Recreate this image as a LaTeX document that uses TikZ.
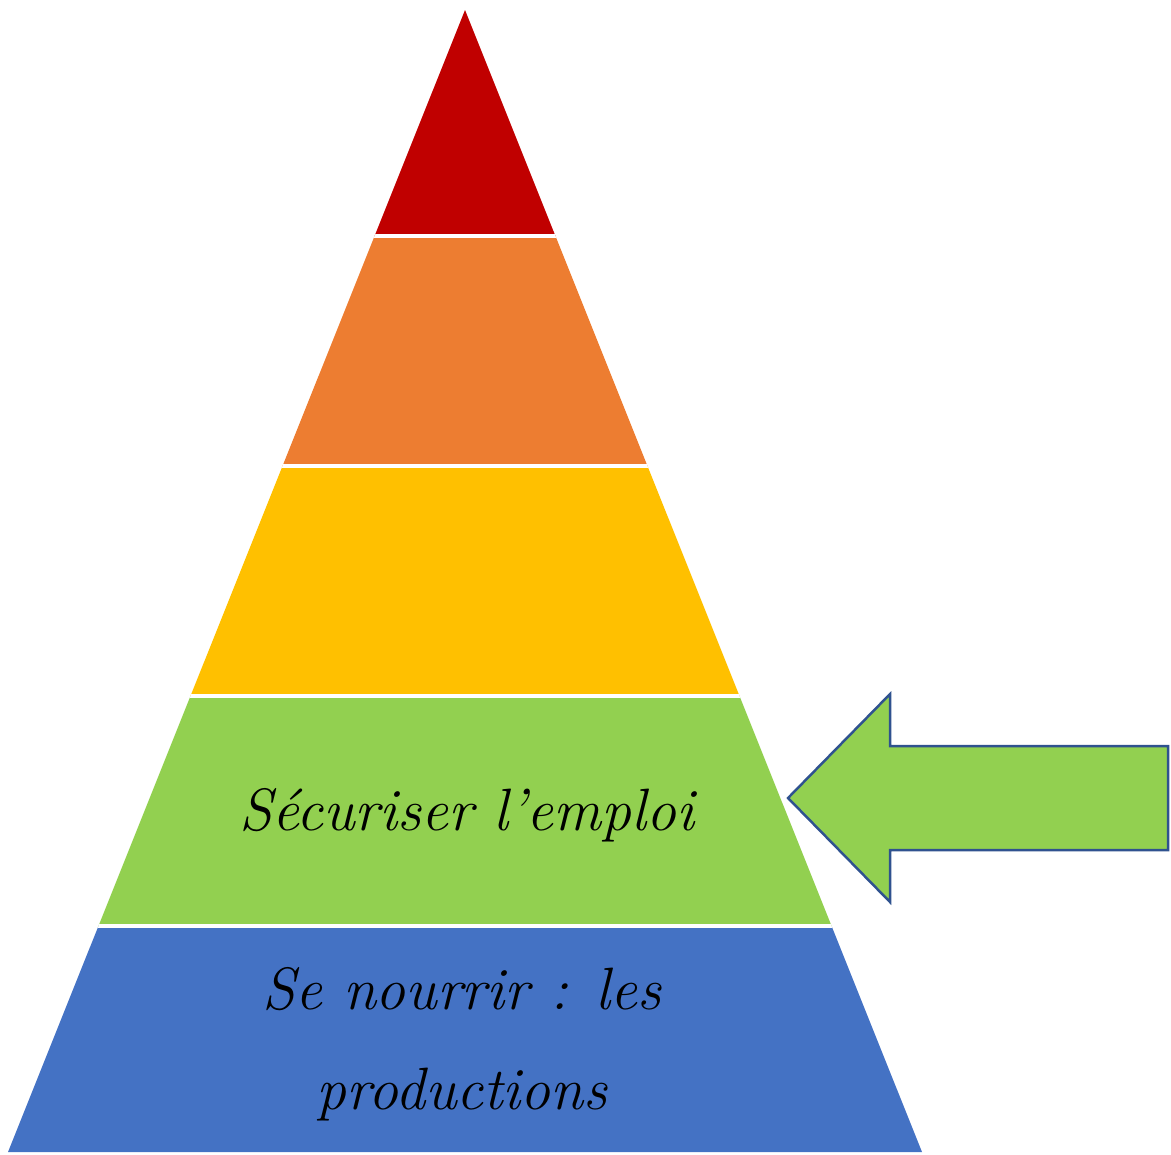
\documentclass[tikz,border=0pt]{standalone}
\usepackage{fontspec}
\usepackage{tikz}
\usetikzlibrary{positioning, calc}
\definecolor{levelred}{RGB}{192, 0, 0}
\definecolor{levelorange}{RGB}{237, 125, 49}
\definecolor{levelyellow}{RGB}{255, 192, 0}
\definecolor{levelgreen}{RGB}{146, 208, 80}
\definecolor{levelblue}{RGB}{68, 114, 196}
\definecolor{arrowline}{RGB}{47, 82, 143}
\tikzstyle{separator} = [draw=white, line width=0.9pt]
\tikzstyle{layertext} = [font=\fontsize{17}{28.45}\selectfont\itshape, text=black, align=center]
\tikzstyle{bigarrow} = [fill=levelgreen, draw=arrowline, line width=0.7pt, line join=miter]

\begin{document}
\begin{tikzpicture}[x=0.01cm, y=-0.01cm]
\useasboundingbox (0,0) rectangle (1171,1154);

% Pyramid outline
\coordinate (apex) at (465,10);
\coordinate (baseL) at (8,1152);
\coordinate (baseR) at (922,1152);

% Layers from top to bottom
\begin{scope}
\clip (apex) -- (baseL) -- (baseR) -- cycle;
\foreach \col/\top/\bot in {levelred/0/236, levelorange/236/466, levelyellow/466/696, levelgreen/696/926, levelblue/926/1154}
  \fill[\col] (0,\top) rectangle (1171,\bot);
\foreach \y in {236,466,696,926}
  \draw[separator] (0,\y) -- (1171,\y);
\end{scope}

% Layer labels
\node (emploi) [layertext, anchor=base] at (467,830) {Sécuriser l’emploi};
\node (nourrir) [layertext] at (462,1044) {Se nourrir : les\\productions};

% Pointer arrow
\coordinate (tip) at (788,798);
\draw[bigarrow] (tip) -- (890,694) -- (890,746) -- (1168,746) -- (1168,850) -- (890,850) -- (890,902) -- cycle;

\end{tikzpicture}
\end{document}
